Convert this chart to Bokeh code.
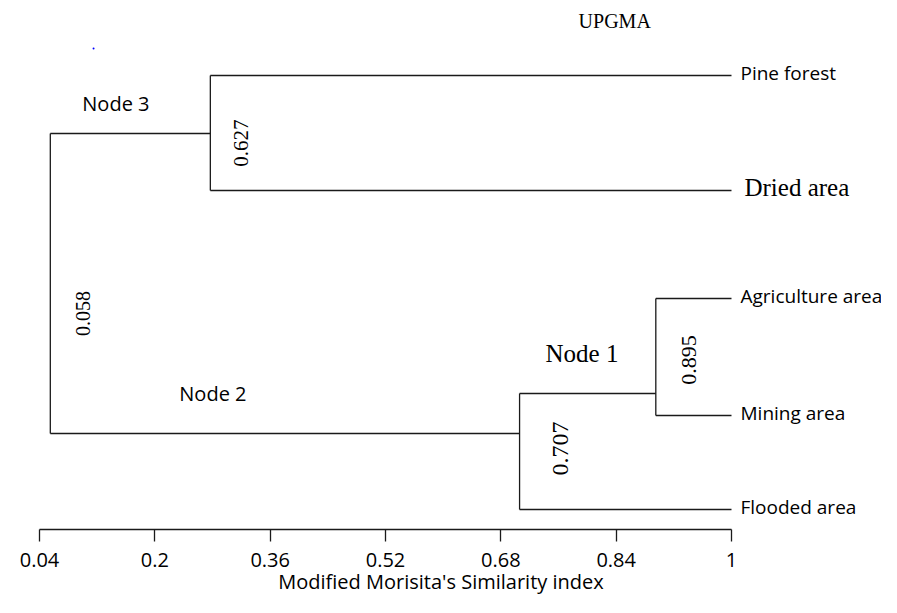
import numpy as np
from bokeh.plotting import figure
from bokeh.models import Range1d, FixedTicker, ColumnDataSource, Label
from bokeh.core.properties import value
from bokeh.embed import file_html
from bokeh.resources import INLINE

# ---------------- data ----------------
chart_title = "UPGMA"
x_title = "Modified Morisita's Similarity index"
tick_values = [0.04, 0.2, 0.36, 0.52, 0.68, 0.84, 1.0]
tick_labels = ["0.04", "0.2", "0.36", "0.52", "0.68", "0.84", "1"]

leaf_names = ["Pine forest", "Dried area", "Agriculture area", "Mining area", "Flooded area"]
leaf_sim = [1.0, 1.0, 1.0, 1.0, 1.0]
leaf_row = [4.54, 3.39, 2.31, 1.14, 0.20]          # vertical position of each leaf

node_names = ["Node 1", "Node 2", "Node 3", "Root"]
node_sim = [0.895, 0.706, 0.277, 0.055]            # drawn join level
node_value_text = ["0.895", "0.707", "0.627", "0.058"]
node_row = [1.36, 0.96, 3.96, 2.46]                # attach row of each node
node_children = [["Agriculture area", "Mining area"],
                 ["Node 1", "Flooded area"],
                 ["Pine forest", "Dried area"],
                 ["Node 3", "Node 2"]]
node_parent = ["Node 2", "Root", "Root", None]

# ---------------- derived geometry ----------------
pos = {n: (x, y) for n, x, y in zip(leaf_names, leaf_sim, leaf_row)}
pos.update({n: (x, y) for n, x, y in zip(node_names, node_sim, node_row)})

x0, y0, x1, y1 = [], [], [], []
for n, kids in zip(node_names, node_children):
    nx, _ = pos[n]
    ys = [pos[k][1] for k in kids]
    x0.append(nx); x1.append(nx); y0.append(min(ys)); y1.append(max(ys))
    for k in kids:
        kx, ky = pos[k]
        x0.append(nx); x1.append(kx); y0.append(ky); y1.append(ky)
seg = ColumnDataSource(dict(x0=x0, y0=y0, x1=x1, y1=y1))

LINE = "#1a1a1a"
SANS = "Open Sans"
SERIF = "Liberation Serif"

p = figure(width=881, height=597, output_backend="svg", toolbar_location=None,
           x_range=Range1d(-0.0141, 1.2081), y_range=Range1d(0, 5.29),
           y_axis_location=None, min_border_left=0, min_border_right=0,
           min_border_top=0, min_border_bottom=68)
p.outline_line_color = None
p.xgrid.visible = False
p.ygrid.visible = False
p.background_fill_color = "white"
p.border_fill_color = "white"

p.segment("x0", "y0", "x1", "y1", source=seg, line_color=LINE, line_width=1.3)

# leaf labels
leaf_font = [SERIF if n == "Dried area" else SANS for n in leaf_names]
leaf_size = ["25px" if n == "Dried area" else "19px" for n in leaf_names]
leaf_xo = [13 if n == "Dried area" else 9 for n in leaf_names]
leaf_src = ColumnDataSource(dict(x=leaf_sim, y=leaf_row, t=leaf_names, f=leaf_font,
                                 s=leaf_size, xo=leaf_xo))
p.text("x", "y", text="t", source=leaf_src, text_font="f", text_font_size="s",
       text_align="left", text_baseline="middle", x_offset="xo", y_offset=-3,
       text_color="black")

# node names (placed beside the branch leading to each node)
name_x = [pos[node_parent[i]][0] for i in range(3)]
name_y = [node_row[i] for i in range(3)]
name_src = ColumnDataSource(dict(
    x=name_x, y=name_y, t=node_names[:3],
    f=[SERIF, SANS, SANS], s=["25px", "20px", "20px"],
    xo=[26, 129, 32], yo=[-40, -40, -30]))
p.text("x", "y", text="t", source=name_src, text_font="f", text_font_size="s",
       text_align="left", text_baseline="middle", x_offset="xo", y_offset="yo",
       text_color="black")

# rotated similarity values on the vertical joins
val_y = [(min(pos[k][1] for k in kids) + max(pos[k][1] for k in kids)) / 2 for kids in node_children]
val_src = ColumnDataSource(dict(
    x=node_sim, y=val_y, t=node_value_text,
    s=["22px", "24px", "21px", "20px"],
    xo=[33, 41, 31, 33], yo=[3, -3, 10, 30]))
p.text("x", "y", text="t", source=val_src, text_font=value(SERIF), text_font_size="s",
       angle=np.pi / 2, text_align="center", text_baseline="middle",
       x_offset="xo", y_offset="yo", text_color="black")

# small blue speck present in the original
p.scatter([0.115], [4.81], size=2, color="blue", line_color=None)

p.add_layout(Label(x=0.838, y=5.09, text=chart_title, text_font=SERIF,
                   text_font_size="20px", text_align="center",
                   text_baseline="middle", text_color="black"))

ax = p.xaxis[0]
ax.ticker = FixedTicker(ticks=tick_values)
ax.major_label_overrides = {v: l for v, l in zip(tick_values, tick_labels)}
ax.bounds = (tick_values[0], tick_values[-1])
ax.axis_line_color = LINE
ax.axis_line_width = 1.3
ax.major_tick_line_color = LINE
ax.major_tick_line_width = 1.3
ax.major_tick_out = 12
ax.major_tick_in = 0
ax.minor_tick_out = 0
ax.minor_tick_in = 0
ax.major_label_text_font = SANS
ax.major_label_text_font_size = "20px"
ax.major_label_text_color = "black"
ax.major_label_standoff = 11
ax.axis_label = x_title
ax.axis_label_text_font = SANS
ax.axis_label_text_font_size = "20px"
ax.axis_label_text_font_style = "normal"
ax.axis_label_text_color = "black"
ax.axis_label_standoff = -2

open("out.html", "w").write(file_html(p, INLINE))
